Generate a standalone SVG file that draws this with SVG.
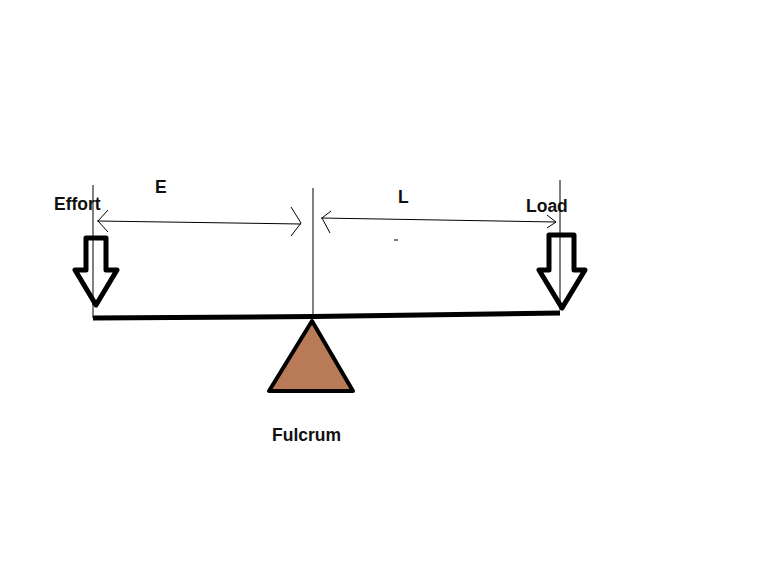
<svg xmlns="http://www.w3.org/2000/svg" width="768" height="576" viewBox="0 0 768 576">
<style>
.t{font-family:"Liberation Sans",Arial,sans-serif;font-weight:bold;font-size:17.5px;fill:#111}
.thin{stroke:#000;stroke-width:1;fill:none}
.blk{stroke:#000;stroke-width:5;fill:#fff;stroke-linejoin:round}
</style>
<rect width="768" height="576" fill="#fff"/>
<g id="connectors">
<line class="thin" x1="93" y1="185" x2="93" y2="318"/>
<line class="thin" x1="313" y1="188" x2="313" y2="318"/>
<line class="thin" x1="560" y1="180" x2="560" y2="310"/>
<polyline class="thin" points="97,221 301,224"/>
<polyline class="thin" points="108,210 98,221 108,232"/>
<polyline class="thin" points="291,207 301,223 291,236"/>
<polyline class="thin" points="321,218 556,222"/>
<polyline class="thin" points="331,211 322,218 330,233"/>
<polyline class="thin" points="547,215 556,222 547,228"/>
<line x1="394" y1="240" x2="398" y2="240" stroke="#000" stroke-width="1"/>
</g>
<g id="beam">
<polyline points="93,318 313,316.5 560,313" fill="none" stroke="#000" stroke-width="5"/>
</g>
<g id="effort">
<path class="blk" d="M86,238 H106 V270 H117 L96,305 L75,270 H86 Z"/>
<line class="thin" x1="93" y1="238" x2="93" y2="305"/>
<text class="t" x="54" y="210">Effort</text>
<text class="t" x="155" y="193">E</text>
</g>
<g id="load">
<path class="blk" d="M549,235 H574 V270 H585 L562,308 L539,270 H549 Z"/>
<line class="thin" x1="560" y1="235" x2="560" y2="308"/>
<text class="t" x="526" y="212">Load</text>
<text class="t" x="398" y="203">L</text>
</g>
<g id="fulcrum">
<polygon points="312,321 269,391 353,391" fill="#b97a57" stroke="#000" stroke-width="4" stroke-linejoin="round"/>
<text class="t" x="272" y="441">Fulcrum</text>
</g>
</svg>
